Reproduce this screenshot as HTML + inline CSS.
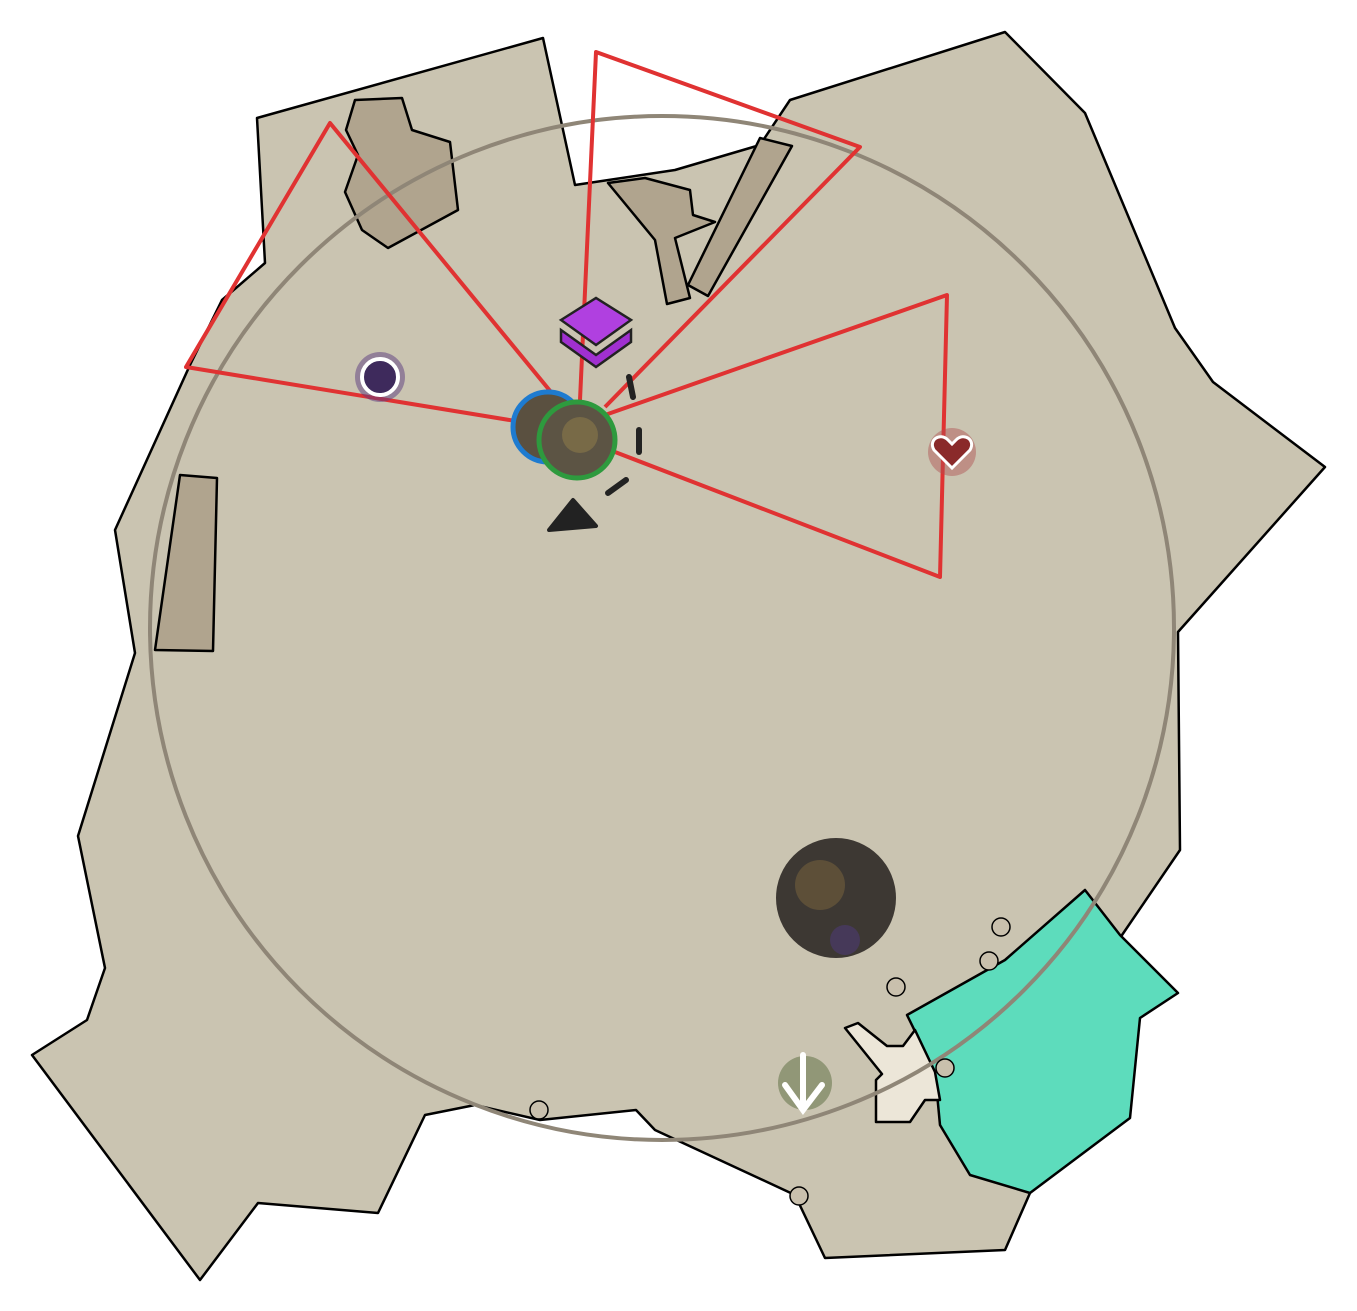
<!DOCTYPE html>
<html><head><meta charset="utf-8"><style>html,body{margin:0;padding:0;background:#fff}svg{display:block}</style></head>
<body>
<svg width="1357" height="1311" viewBox="0 0 1357 1311" xmlns="http://www.w3.org/2000/svg">
<polygon points="257,118 543,38 575,185 675,170 760,145 790,100 1005,32 1085,113 1175,328 1213,382 1325,467 1178,632 1180,850 1120,938 1030,1193 1005,1250 825,1258 795,1195 655,1130 636,1110 540,1120 475,1105 425,1115 378,1213 258,1203 200,1280 32,1055 87,1020 105,968 78,836 135,653 115,530 190,365 222,300 265,263" fill="#cac4b1" stroke="#000" stroke-width="2.5" stroke-linejoin="round"/>
<g fill="#b0a48e" stroke="#000" stroke-width="2.5" stroke-linejoin="round">
<polygon points="355,100 402,98 412,130 450,142 458,210 388,248 362,230 345,192 358,155 346,130"/>
<polygon points="180,475 217,478 213,651 155,650"/>
<polygon points="608,183 645,178 690,190 693,215 715,222 675,238 690,298 667,304 655,240"/>
<polygon points="760,138 792,146 708,296 688,285"/>
</g>
<polygon points="907,1015 1005,960 1085,890 1120,935 1178,993 1140,1018 1130,1118 1030,1193 970,1175 940,1125 935,1072" fill="#5ddcbc" stroke="#000" stroke-width="2.5" stroke-linejoin="round"/>
<polygon points="845,1028 858,1023 887,1046 903,1046 915,1030 935,1072 940,1100 925,1100 910,1122 876,1122 876,1080 882,1074" fill="#ece6d8" stroke="#000" stroke-width="2.5" stroke-linejoin="round"/>
<circle cx="662" cy="628" r="512" fill="none" stroke="#8f8677" stroke-width="4"/>
<g fill="#c9c0ad" stroke="#000" stroke-width="1.5">
<circle cx="1001" cy="927" r="9"/><circle cx="989" cy="961" r="9"/><circle cx="896" cy="987" r="9"/><circle cx="945" cy="1068" r="9"/><circle cx="539" cy="1110" r="9"/><circle cx="799" cy="1196" r="9"/>
</g>
<g fill="none" stroke="#e03232" stroke-width="4" stroke-linejoin="round">
<polyline points="540,425 186,367 330,123 560,403"/>
<polyline points="580,400 596,52 860,147 605,407"/>
<polyline points="605,415 947,295 940,577 615,452"/>
</g>
<circle cx="836" cy="898" r="60" fill="#3d3833"/>
<circle cx="820" cy="885" r="25" fill="#6b5a3a" opacity="0.7"/>
<circle cx="845" cy="940" r="15" fill="#4a3a6a" opacity="0.7"/>
<circle cx="548" cy="427" r="35" fill="#5a5040" stroke="#1e7bd0" stroke-width="5"/>
<circle cx="577" cy="440" r="38" fill="#5c5444" stroke="#2e9a3e" stroke-width="5"/>
<circle cx="580" cy="435" r="18" fill="#8a7a4a" opacity="0.6"/>
<g fill="none" stroke="#222" stroke-width="6" stroke-linecap="round">
<line x1="629" y1="377" x2="633" y2="397"/>
<line x1="639" y1="430" x2="639" y2="452"/>
<line x1="608" y1="493" x2="626" y2="480"/>
</g>
<polygon points="549,530 573,500 596,526" fill="#222" stroke="#222" stroke-width="4" stroke-linejoin="round"/>
<polygon points="561,320 596,298 631,320 596,345" fill="#b040e0" stroke="#222" stroke-width="2.5"/>
<polygon points="561,330 596,355 631,330 631,342 596,367 561,342" fill="#a030d0" stroke="#222" stroke-width="2.5"/>
<circle cx="380" cy="377" r="25" fill="#5a3a80" opacity="0.5"/>
<circle cx="380" cy="377" r="18" fill="#3e2a5c" stroke="#fff" stroke-width="4"/>
<circle cx="952" cy="452" r="24" fill="#b05050" opacity="0.45"/>
<path d="M952,468 L934,450 C928,440 940,432 948,440 L952,444 L956,440 C964,432 976,440 970,450 Z" fill="#8a2a2a" stroke="#fff" stroke-width="3"/>
<circle cx="805" cy="1083" r="27" fill="#6a7a50" opacity="0.6"/>
<path d="M803,1055 L803,1110 M785,1085 L803,1110 L822,1085" fill="none" stroke="#fff" stroke-width="6" stroke-linecap="round"/>
</svg>
</body></html>
